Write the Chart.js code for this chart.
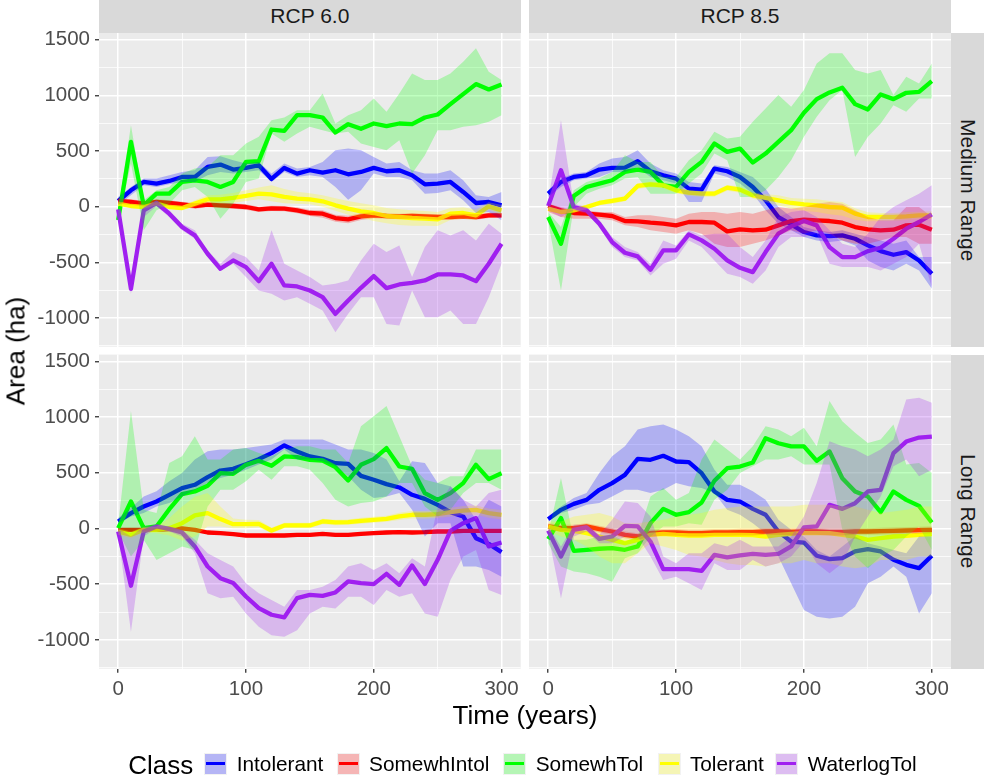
<!DOCTYPE html>
<html>
<head>
<meta charset="utf-8">
<script src="https://cdn.jsdelivr.net/npm/chart.js@4.4.1/dist/chart.umd.min.js"></script>
<style>
  html, body { margin: 0; padding: 0; background: #ffffff; }
  body { width: 984px; height: 778px; position: relative; overflow: hidden;
         font-family: "Liberation Sans", Arial, sans-serif; }
  canvas.panel { position: absolute; left: 0; top: 0; }
  .strip { position: absolute; background: #D9D9D9; color: #1A1A1A; font-size: 21px;
           display: flex; align-items: center; justify-content: center; z-index: 2; }
  .strip.side span { writing-mode: vertical-rl; }
  .txt { position: absolute; white-space: nowrap; z-index: 2; }
  .key { position: absolute; width: 23px; height: 22px; background: #F2F2F2; z-index: 2; }
  .key i { position: absolute; left: 1px; top: 1px; right: 1px; bottom: 1px; }
  .key b { position: absolute; left: 2px; right: 2px; top: 9px; height: 3.7px; }
</style>
</head>
<body>
<canvas class="panel" id="tl" width="984" height="778"></canvas>
<canvas class="panel" id="tr" width="984" height="778"></canvas>
<canvas class="panel" id="bl" width="984" height="778"></canvas>
<canvas class="panel" id="br" width="984" height="778"></canvas>

<div class="strip" style="left:99px;top:0;width:421.7px;height:32.7px">RCP 6.0</div>
<div class="strip" style="left:529px;top:0;width:422px;height:32.7px">RCP 8.5</div>
<div class="strip side" style="left:951px;top:33px;width:33px;height:313.7px"><span>Medium Range</span></div>
<div class="strip side" style="left:951px;top:354.6px;width:33px;height:314.1px"><span>Long Range</span></div>

<div class="txt" style="left:525px;top:715px;font-size:26px;transform:translate(-50%,-50%)">Time (years)</div>
<div class="txt" style="left:15.5px;top:351px;font-size:26px;transform:translate(-50%,-50%) rotate(-90deg)">Area (ha)</div>
<div id="legend"></div>

<script>
// time steps (years)
const years = [0, 10, 20, 30, 40, 50, 60, 70, 80, 90, 100, 110, 120, 130, 140, 150,
  160, 170, 180, 190, 200, 210, 220, 230, 240, 250, 260, 270, 280, 290, 300];

const classNames = ['Intolerant', 'SomewhIntol', 'SomewhTol', 'Tolerant', 'WaterlogTol'];
const classColors = ['0,0,255', '255,0,0', '0,255,0', '255,255,0', '160,32,240'];

const xMajor = [0, 100, 200, 300];
const xGrid = [0, 50, 100, 150, 200, 250, 300];
const yMajor = [-1000, -500, 0, 500, 1000, 1500];
const yGrid = [-1250, -1000, -750, -500, -250, 0, 250, 500, 750, 1000, 1250, 1500];

// --- Medium Range, RCP 6.0 ---
const m60Intol   = [51,147,222,207,231,267,267,357,378,333,348,372,249,348,297,327,306,327,291,312,348,318,327,282,201,207,222,132,33,42,12];
const m60IntolLo = [12,102,192,177,201,222,222,282,312,297,312,327,222,312,267,282,267,177,63,147,297,267,267,237,117,123,147,57,-57,-48,-123];
const m60IntolHi = [87,177,252,252,282,312,327,447,453,417,387,402,297,387,342,357,402,507,522,507,447,387,402,327,297,297,327,237,102,87,132];
const m60SIntol   = [51,42,27,42,33,21,6,18,12,6,-3,-24,-15,-18,-33,-57,-63,-102,-114,-87,-78,-84,-87,-84,-87,-93,-93,-87,-93,-78,-78];
const m60SIntolLo = [27,18,3,18,9,-3,-18,-6,-12,-18,-27,-48,-39,-42,-60,-84,-99,-135,-150,-120,-105,-108,-111,-108,-111,-117,-117,-111,-117,-102,-102];
const m60SIntolHi = [75,66,51,66,57,45,30,42,36,30,21,0,9,6,-6,-30,-33,-72,-81,-60,-51,-60,-63,-60,-63,-69,-69,-63,-69,-54,-54];
const m60STol   = [-120,582,12,117,117,222,237,222,177,222,402,408,693,681,822,822,801,666,741,699,747,723,747,741,801,828,921,1011,1101,1053,1098];
const m60STolLo = [-138,387,-213,-33,27,147,177,87,-108,27,222,252,657,582,657,717,687,657,672,567,537,507,597,297,462,687,687,717,732,762,822];
const m60STolHi = [-33,732,57,147,177,297,342,357,462,462,567,627,777,801,867,867,1017,747,822,867,972,852,1017,1197,1137,1137,1197,1302,1422,1212,1137];
const m60Tol   = [27,6,-3,27,-3,-12,27,66,66,78,96,117,111,87,72,66,48,12,-18,-42,-57,-84,-93,-102,-108,-114,-63,-57,-78,3,-33];
const m60TolLo = [12,-12,-18,12,-18,-30,0,33,30,36,51,66,48,30,27,21,0,-36,-72,-102,-129,-150,-165,-171,-171,-174,-120,-108,-120,-27,-75];
const m60TolHi = [42,24,12,42,12,6,57,102,108,123,147,171,192,159,135,120,102,75,51,30,12,-12,-24,-33,-39,-48,-12,-6,-27,39,15];
const m60Wat   = [-24,-738,-33,33,-63,-183,-258,-423,-558,-483,-543,-669,-513,-708,-717,-753,-813,-963,-843,-729,-624,-732,-699,-684,-663,-609,-609,-618,-669,-513,-333];
const m60WatLo = [-48,-783,-93,3,-93,-213,-288,-453,-573,-513,-633,-753,-783,-843,-813,-873,-933,-1128,-963,-813,-813,-1053,-1068,-753,-993,-993,-933,-1053,-1053,-813,-513];
const m60WatHi = [-3,-693,-3,57,-33,-153,-213,-393,-513,-408,-453,-573,-213,-513,-573,-633,-708,-693,-663,-483,-333,-408,-348,-633,-363,-213,-258,-213,-303,-153,-243];

// --- Medium Range, RCP 8.5 ---
const m85Intol   = [117,222,267,282,333,348,351,408,318,282,252,162,153,342,318,267,177,57,-93,-159,-228,-258,-264,-258,-288,-348,-399,-432,-408,-483,-603];
const m85IntolLo = [87,177,237,252,267,312,312,357,267,237,207,42,42,297,267,207,117,-33,-153,-213,-273,-303,-318,-303,-348,-483,-543,-573,-513,-573,-738];
const m85IntolHi = [147,252,297,312,387,432,447,507,387,327,297,222,207,372,357,312,267,162,-3,-93,-183,-213,-228,-213,-243,-273,-303,-333,-303,-453,-453];
const m85SIntol   = [6,-33,-57,-63,-72,-84,-129,-132,-144,-153,-168,-138,-138,-144,-222,-204,-213,-207,-168,-129,-117,-123,-129,-144,-183,-204,-213,-207,-168,-162,-207];
const m85SIntolLo = [-48,-93,-108,-108,-108,-123,-168,-183,-213,-228,-243,-213,-243,-333,-363,-363,-333,-303,-258,-213,-243,-213,-243,-303,-333,-333,-303,-273,-273,-333,-333];
const m85SIntolHi = [27,-3,-33,-33,-48,-48,-93,-78,-78,-93,-108,-63,-48,-48,-63,-48,-63,-33,-3,-18,-3,27,42,27,-33,-93,-123,-123,-3,-3,-93];
const m85STol   = [-93,-333,96,177,207,237,312,333,312,192,177,312,402,567,492,522,396,477,582,687,843,966,1026,1068,921,873,1008,966,1023,1032,1128];
const m85STolLo = [-138,-753,-3,117,162,192,252,267,117,117,117,207,297,477,417,87,87,147,267,417,627,807,957,1047,447,627,747,912,852,972,972];
const m85STolHi = [-48,-183,147,222,252,312,462,402,402,267,267,417,507,672,612,627,762,882,1002,897,1047,1287,1377,1377,1227,1197,1227,1002,1167,1107,1287];
const m85Tol   = [-18,-48,-33,-3,33,51,72,186,201,192,147,126,117,117,171,153,102,78,57,33,21,12,-3,-9,-63,-93,-93,-93,-87,-78,-78];
const m85TolLo = [-36,-66,-51,-24,12,27,48,159,174,165,120,99,90,90,144,126,72,42,12,-18,-36,-48,-69,-81,-117,-132,-129,-126,-120,-111,-111];
const m85TolHi = [0,-27,-15,18,54,75,96,210,225,216,171,150,141,141,195,180,129,111,102,78,72,66,51,42,-15,-51,-57,-57,-51,-45,-42];
const m85Wat   = [6,327,-3,-33,-153,-318,-414,-447,-567,-393,-393,-249,-303,-378,-483,-549,-588,-408,-243,-177,-129,-168,-363,-453,-453,-399,-369,-288,-198,-138,-69];
const m85WatLo = [-33,-93,-33,-63,-183,-363,-453,-483,-618,-513,-468,-303,-363,-483,-603,-633,-693,-573,-363,-273,-273,-243,-513,-543,-543,-543,-573,-513,-453,-333,-723];
const m85WatHi = [42,777,27,-3,-123,-273,-363,-408,-513,-303,-348,-213,-258,-243,-243,-363,-453,-303,-93,-48,-33,-93,-213,-333,-363,-243,-93,-3,57,117,192];

// --- Long Range, RCP 6.0 ---
const l60Intol   = [63,138,197,242,302,362,392,460,520,535,577,622,676,745,691,646,625,586,580,472,437,398,368,302,266,212,147,108,-87,-138,-212];
const l60IntolLo = [48,108,138,198,228,288,348,408,453,483,528,573,618,708,618,618,603,558,468,348,273,288,318,168,-72,48,48,-342,-342,-372,-432];
const l60IntolHi = [93,183,288,333,423,498,618,693,708,708,723,738,753,798,798,798,798,753,708,708,678,618,423,603,588,408,378,258,78,258,198];
const l60SIntol   = [-12,-12,-12,-12,-6,0,-12,-36,-42,-51,-63,-63,-63,-63,-57,-57,-48,-57,-57,-48,-42,-36,-33,-36,-33,-27,-27,-21,-21,-21,-21];
const l60SIntolLo = [-27,-27,-27,-27,-21,-15,-27,-51,-57,-66,-78,-78,-78,-78,-72,-72,-63,-72,-72,-63,-57,-51,-48,-51,-48,-42,-42,-36,-36,-36,-36];
const l60SIntolHi = [3,3,3,3,9,15,3,-21,-27,-36,-48,-48,-48,-48,-42,-42,-33,-42,-42,-33,-27,-21,-18,-21,-18,-12,-12,-6,-6,-6,-6];
const l60STol   = [3,242,3,18,173,308,332,383,496,490,571,607,562,646,640,616,610,550,431,571,622,721,556,535,317,257,317,407,571,443,496];
const l60STolLo = [-27,-252,-102,-282,-222,-162,-192,198,348,348,423,528,438,558,558,528,408,258,198,228,243,288,408,408,198,108,168,318,408,408,348];
const l60STolHi = [33,1053,168,138,588,648,828,618,618,708,723,678,648,708,738,738,708,708,588,918,1008,1098,828,558,438,408,468,468,708,708,708];
const l60Tol   = [-27,-57,-12,-12,3,48,117,138,84,39,39,42,-18,27,27,27,63,54,57,69,78,87,108,123,123,129,147,161,167,138,123];
const l60TolLo = [-57,-87,-36,-42,-63,-108,-72,18,18,3,3,9,-42,3,3,3,39,30,33,42,51,60,75,90,90,93,108,120,126,96,81];
const l60TolHi = [3,-27,12,18,93,198,285,318,198,90,78,75,6,51,51,51,87,78,81,96,105,114,141,156,156,165,186,201,207,180,165];
const l60Wat   = [-27,-514,-27,18,-3,-36,-161,-341,-446,-490,-610,-715,-774,-798,-625,-595,-604,-574,-475,-490,-499,-407,-505,-332,-499,-281,-21,48,93,-161,-126];
const l60WatLo = [-57,-927,-72,3,-27,-72,-222,-582,-627,-612,-762,-882,-957,-972,-912,-762,-702,-717,-612,-612,-687,-552,-612,-582,-762,-792,-462,-252,-192,-552,-597];
const l60WatHi = [3,-72,18,33,18,-12,-102,-222,-282,-342,-492,-582,-642,-702,-552,-552,-522,-462,-342,-312,-372,-312,-402,-267,-342,198,378,258,198,318,348];

// --- Long Range, RCP 8.5 ---
const l85Intol   = [84,167,221,257,347,407,481,625,616,652,601,595,496,332,257,242,176,123,-27,-117,-126,-245,-275,-266,-206,-185,-206,-281,-326,-356,-245];
const l85IntolLo = [63,138,168,213,228,288,348,348,318,348,408,378,363,318,168,123,48,-42,-252,-492,-732,-792,-807,-792,-702,-492,-432,-342,-432,-762,-582];
const l85IntolHi = [108,198,273,318,498,648,738,888,918,933,888,828,738,528,393,393,333,258,78,-12,-72,-192,-252,-162,-72,-132,-162,-192,-222,-72,-72];
const l85SIntol   = [18,3,3,18,-6,-27,-57,-72,-42,-36,-36,-42,-42,-36,-36,-33,-33,-27,-27,-30,-27,-27,-33,-33,-27,-27,-24,-21,-18,-15,-12];
const l85SIntolLo = [-12,-27,-27,-12,-36,-57,-87,-102,-72,-66,-66,-72,-72,-66,-66,-63,-63,-57,-57,-60,-57,-57,-63,-63,-57,-57,-54,-51,-48,-45,-42];
const l85SIntolHi = [48,33,33,48,24,3,-27,-42,-12,-6,-6,-12,-12,-6,-6,-3,-3,3,3,0,3,3,-3,-3,3,3,6,9,12,15,18];
const l85STol   = [-96,93,-200,-191,-182,-176,-191,-161,48,176,123,147,233,428,541,556,592,810,765,736,736,607,691,451,332,287,147,332,257,203,54];
const l85STolLo = [-132,-342,-387,-402,-432,-477,-267,-222,-72,18,18,48,33,258,348,498,558,618,618,648,573,573,573,-12,-252,-357,-252,-192,-72,18,-192];
const l85STolHi = [-42,453,-102,-102,-72,-57,-117,-72,288,363,258,318,618,798,708,618,738,918,888,828,903,738,1143,963,858,768,798,933,573,588,498];
const l85Tol   = [18,-12,-21,-42,-72,-102,-132,-102,-57,-48,-57,-63,-63,-57,-57,-57,-60,-72,-57,-48,-42,-42,-42,-57,-72,-102,-87,-72,-66,-57,-51];
const l85TolLo = [-27,-72,-102,-162,-252,-312,-312,-222,-132,-162,-192,-237,-252,-282,-312,-327,-327,-342,-312,-312,-282,-312,-312,-342,-357,-342,-282,-282,-282,-252,-252];
const l85TolHi = [63,63,108,123,138,108,48,48,63,78,108,123,138,168,183,198,198,198,198,198,213,213,213,198,198,168,138,153,168,198,198];
const l85Wat   = [-18,-251,-12,9,-93,-72,24,18,-117,-365,-365,-365,-380,-236,-260,-242,-227,-236,-227,-161,9,18,212,176,227,332,347,676,780,816,825];
const l85WatLo = [-57,-627,-72,-27,-132,-132,-72,-72,-252,-462,-432,-492,-552,-312,-372,-372,-282,-342,-312,-252,-117,-312,-402,-312,-72,108,288,558,618,468,528];
const l85WatHi = [18,-162,33,33,-57,78,243,228,108,-252,-312,-222,-222,-132,-162,-102,-162,-162,-162,-72,108,408,783,738,708,648,708,798,1158,1173,1128];

const FONT = '"Liberation Sans", Arial, sans-serif';
const PAGE_W = 984, PAGE_H = 778;
const X_AXIS_H = 40;

// panel background (ggplot grey92)
const panelBg = {
    id: 'panelBg',
    beforeDraw(chart) {
        const { ctx, chartArea: a } = chart;
        ctx.save();
        ctx.fillStyle = '#EBEBEB';
        ctx.fillRect(a.left, a.top, a.right - a.left, a.bottom - a.top);
        ctx.restore();
    },
};

const toPoints = (vals) => years.map((x, k) => ({ x, y: vals[k] }));

// lines go below the ribbons, as in the original plot
function buildDatasets(mids, los, his) {
    const sets = [];
    classNames.forEach((name, i) => {
        sets.push({
            label: name,
            data: toPoints(mids[i]),
            borderColor: 'rgb(' + classColors[i] + ')',
            borderWidth: 4.3,
            borderJoinStyle: 'round',
            pointRadius: 0,
            fill: false,
            order: 20 - i,
        });
        sets.push({
            label: name + ' hi',
            data: toPoints(his[i]),
            borderWidth: 0,
            pointRadius: 0,
            backgroundColor: 'rgba(' + classColors[i] + ',0.25)',
            fill: '+1',
            order: 10 - i,
        });
        sets.push({
            label: name + ' lo',
            data: toPoints(los[i]),
            borderWidth: 0,
            pointRadius: 0,
            fill: false,
            order: 10 - i,
        });
    });
    return sets;
}

function makePanel(id, rect, showX, showY, datasets) {
    const isMajorX = (v) => xMajor.includes(v);
    const isMajorY = (v) => yMajor.includes(v);
    return new Chart(document.getElementById(id), {
        type: 'line',
        data: { datasets },
        plugins: [panelBg],
        options: {
            responsive: false,
            animation: false,
            devicePixelRatio: 1,
            layout: {
                autoPadding: false,
                padding: {
                    left: showY ? 0 : rect.left,
                    top: rect.top,
                    right: PAGE_W - rect.right,
                    bottom: PAGE_H - rect.bottom - (showX ? X_AXIS_H : 0),
                },
            },
            plugins: { legend: { display: false }, tooltip: { enabled: false } },
            scales: {
                x: {
                    type: 'linear',
                    min: -15,
                    max: 315,
                    afterBuildTicks: (s) => { s.ticks = xGrid.map((v) => ({ value: v })); },
                    afterFit: (s) => {
                        s.height = showX ? X_AXIS_H : 0;
                        s.paddingLeft = 0; s.paddingRight = 0;
                    },
                    border: { display: false },
                    grid: {
                        color: '#FFFFFF',
                        lineWidth: (c) => (isMajorX(c.tick.value) ? 1.5 : 0.75),
                        drawTicks: showX,
                        tickLength: 4,
                        tickWidth: 1.3,
                        tickColor: (c) => (isMajorX(c.tick.value) ? '#333333' : 'rgba(0,0,0,0)'),
                    },
                    ticks: {
                        display: showX,
                        autoSkip: false,
                        maxRotation: 0,
                        padding: 4,
                        color: '#4D4D4D',
                        font: { family: FONT, size: 20.5 },
                        callback: (v) => (isMajorX(v) ? String(v) : ''),
                    },
                },
                y: {
                    type: 'linear',
                    min: -1258,
                    max: 1560,
                    afterBuildTicks: (s) => { s.ticks = yGrid.map((v) => ({ value: v })); },
                    afterFit: (s) => {
                        s.width = showY ? rect.left : 0;
                        s.paddingTop = 0; s.paddingBottom = 0;
                    },
                    border: { display: false },
                    grid: {
                        color: '#FFFFFF',
                        lineWidth: (c) => (isMajorY(c.tick.value) ? 1.5 : 0.75),
                        drawTicks: showY,
                        tickLength: 4,
                        tickWidth: 1.3,
                        tickColor: (c) => (isMajorY(c.tick.value) ? '#333333' : 'rgba(0,0,0,0)'),
                    },
                    ticks: {
                        display: showY,
                        autoSkip: false,
                        padding: 5,
                        color: '#4D4D4D',
                        font: { family: FONT, size: 20.5 },
                        callback: (v) => (isMajorY(v) ? String(v) : ''),
                    },
                },
            },
        },
    });
}

makePanel('tl', { left: 99, top: 33, right: 520.7, bottom: 346.7 }, false, true,
    buildDatasets([m60Intol, m60SIntol, m60STol, m60Tol, m60Wat],
                  [m60IntolLo, m60SIntolLo, m60STolLo, m60TolLo, m60WatLo],
                  [m60IntolHi, m60SIntolHi, m60STolHi, m60TolHi, m60WatHi]));
makePanel('tr', { left: 529, top: 33, right: 951, bottom: 346.7 }, false, false,
    buildDatasets([m85Intol, m85SIntol, m85STol, m85Tol, m85Wat],
                  [m85IntolLo, m85SIntolLo, m85STolLo, m85TolLo, m85WatLo],
                  [m85IntolHi, m85SIntolHi, m85STolHi, m85TolHi, m85WatHi]));
makePanel('bl', { left: 99, top: 354.6, right: 520.7, bottom: 668.7 }, true, true,
    buildDatasets([l60Intol, l60SIntol, l60STol, l60Tol, l60Wat],
                  [l60IntolLo, l60SIntolLo, l60STolLo, l60TolLo, l60WatLo],
                  [l60IntolHi, l60SIntolHi, l60STolHi, l60TolHi, l60WatHi]));
makePanel('br', { left: 529, top: 354.6, right: 951, bottom: 668.7 }, true, false,
    buildDatasets([l85Intol, l85SIntol, l85STol, l85Tol, l85Wat],
                  [l85IntolLo, l85SIntolLo, l85STolLo, l85TolLo, l85WatLo],
                  [l85IntolHi, l85SIntolHi, l85STolHi, l85TolHi, l85WatHi]));

// legend along the bottom
const legendKeyLeft = [204.3, 336.7, 503.3, 657.5, 775.3];
const legend = document.getElementById('legend');
let html = '<div class="txt" style="left:128.3px;top:764.5px;font-size:26px;transform:translateY(-50%)">Class</div>';
classNames.forEach((name, i) => {
    const x = legendKeyLeft[i];
    html += '<div class="key" style="left:' + x + 'px;top:752.7px">' +
        '<i style="background:rgba(' + classColors[i] + ',0.25)"></i>' +
        '<b style="background:rgb(' + classColors[i] + ')"></b></div>';
    html += '<div class="txt" style="left:' + (x + 32.4) + 'px;top:764px;font-size:20.8px;transform:translateY(-50%)">' + name + '</div>';
});
legend.innerHTML = html;
</script>
</body>
</html>
